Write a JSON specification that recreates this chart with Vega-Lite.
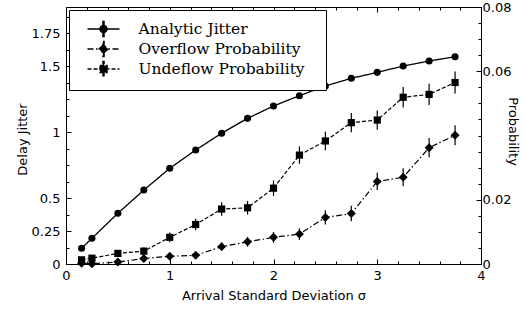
{
  "$schema": "https://vega.github.io/schema/vega-lite/v6.json",
  "width": 415,
  "height": 257,
  "autosize": {"type": "none"},
  "padding": {"left": 66, "top": 7, "right": 45, "bottom": 50},
  "background": "white",
  "config": {
    "view": {"stroke": "black", "strokeWidth": 1},
    "axis": {
      "grid": false, "domain": false, "labelFlush": false, "labelOverlap": false,
      "labelColor": "black", "titleColor": "black", "tickColor": "black", "tickWidth": 1,
      "labelFont": "DejaVu Sans", "titleFont": "DejaVu Sans",
      "labelFontSize": 13, "titleFontSize": 13, "titleFontWeight": "normal", "format": ".3~g"
    }
  },
  "data": {"values": [
    {"series": "Analytic Jitter", "sigma": 0.15, "value": 0.119},
    {"series": "Analytic Jitter", "sigma": 0.25, "value": 0.195},
    {"series": "Analytic Jitter", "sigma": 0.5, "value": 0.385},
    {"series": "Analytic Jitter", "sigma": 0.75, "value": 0.561},
    {"series": "Analytic Jitter", "sigma": 1.0, "value": 0.726},
    {"series": "Analytic Jitter", "sigma": 1.25, "value": 0.865},
    {"series": "Analytic Jitter", "sigma": 1.5, "value": 0.992},
    {"series": "Analytic Jitter", "sigma": 1.75, "value": 1.105},
    {"series": "Analytic Jitter", "sigma": 2.0, "value": 1.199},
    {"series": "Analytic Jitter", "sigma": 2.25, "value": 1.277},
    {"series": "Analytic Jitter", "sigma": 2.5, "value": 1.351},
    {"series": "Analytic Jitter", "sigma": 2.75, "value": 1.409},
    {"series": "Analytic Jitter", "sigma": 3.0, "value": 1.454},
    {"series": "Analytic Jitter", "sigma": 3.25, "value": 1.502},
    {"series": "Analytic Jitter", "sigma": 3.5, "value": 1.54},
    {"series": "Analytic Jitter", "sigma": 3.75, "value": 1.573},
    {"series": "Overflow Probability", "sigma": 0.15, "value": 0.0002, "lo": 0.0, "hi": 0.0005},
    {"series": "Overflow Probability", "sigma": 0.25, "value": 0.0001, "lo": 0.0, "hi": 0.0004},
    {"series": "Overflow Probability", "sigma": 0.5, "value": 0.0006, "lo": 0.0001, "hi": 0.0011},
    {"series": "Overflow Probability", "sigma": 0.75, "value": 0.0017, "lo": 0.0009, "hi": 0.0025},
    {"series": "Overflow Probability", "sigma": 1.0, "value": 0.0024, "lo": 0.0015, "hi": 0.0033},
    {"series": "Overflow Probability", "sigma": 1.25, "value": 0.0027, "lo": 0.0017, "hi": 0.0037},
    {"series": "Overflow Probability", "sigma": 1.5, "value": 0.0054, "lo": 0.0041, "hi": 0.0067},
    {"series": "Overflow Probability", "sigma": 1.75, "value": 0.0069, "lo": 0.0054, "hi": 0.0084},
    {"series": "Overflow Probability", "sigma": 2.0, "value": 0.0083, "lo": 0.0066, "hi": 0.01},
    {"series": "Overflow Probability", "sigma": 2.25, "value": 0.0093, "lo": 0.0075, "hi": 0.0111},
    {"series": "Overflow Probability", "sigma": 2.5, "value": 0.0145, "lo": 0.0123, "hi": 0.0167},
    {"series": "Overflow Probability", "sigma": 2.75, "value": 0.0157, "lo": 0.0133, "hi": 0.0181},
    {"series": "Overflow Probability", "sigma": 3.0, "value": 0.0257, "lo": 0.023, "hi": 0.0284},
    {"series": "Overflow Probability", "sigma": 3.25, "value": 0.027, "lo": 0.0242, "hi": 0.0298},
    {"series": "Overflow Probability", "sigma": 3.5, "value": 0.0362, "lo": 0.0332, "hi": 0.0392},
    {"series": "Overflow Probability", "sigma": 3.75, "value": 0.0401, "lo": 0.037, "hi": 0.0432},
    {"series": "Undeflow Probability", "sigma": 0.15, "value": 0.0013, "lo": 0.0007, "hi": 0.0019},
    {"series": "Undeflow Probability", "sigma": 0.25, "value": 0.0018, "lo": 0.0011, "hi": 0.0025},
    {"series": "Undeflow Probability", "sigma": 0.5, "value": 0.0033, "lo": 0.0023, "hi": 0.0043},
    {"series": "Undeflow Probability", "sigma": 0.75, "value": 0.004, "lo": 0.0029, "hi": 0.0051},
    {"series": "Undeflow Probability", "sigma": 1.0, "value": 0.0083, "lo": 0.0068, "hi": 0.0098},
    {"series": "Undeflow Probability", "sigma": 1.25, "value": 0.0123, "lo": 0.0105, "hi": 0.0141},
    {"series": "Undeflow Probability", "sigma": 1.5, "value": 0.0171, "lo": 0.015, "hi": 0.0192},
    {"series": "Undeflow Probability", "sigma": 1.75, "value": 0.0175, "lo": 0.0154, "hi": 0.0196},
    {"series": "Undeflow Probability", "sigma": 2.0, "value": 0.0236, "lo": 0.0212, "hi": 0.026},
    {"series": "Undeflow Probability", "sigma": 2.25, "value": 0.0339, "lo": 0.0312, "hi": 0.0366},
    {"series": "Undeflow Probability", "sigma": 2.5, "value": 0.0383, "lo": 0.0354, "hi": 0.0412},
    {"series": "Undeflow Probability", "sigma": 2.75, "value": 0.044, "lo": 0.041, "hi": 0.047},
    {"series": "Undeflow Probability", "sigma": 3.0, "value": 0.0448, "lo": 0.0418, "hi": 0.0478},
    {"series": "Undeflow Probability", "sigma": 3.25, "value": 0.0519, "lo": 0.0487, "hi": 0.0551},
    {"series": "Undeflow Probability", "sigma": 3.5, "value": 0.0528, "lo": 0.0495, "hi": 0.0561},
    {"series": "Undeflow Probability", "sigma": 3.75, "value": 0.0565, "lo": 0.0531, "hi": 0.0599}
  ]},
  "layer": [
    {
      "transform": [{"filter": "datum.series === 'Analytic Jitter'"}],
      "layer": [
        {
          "mark": {"type": "line", "color": "black", "strokeWidth": 1.3},
          "encoding": {
            "x": {"field": "sigma", "type": "quantitative", "scale": {"domain": [0, 4], "nice": false},
              "axis": {"orient": "bottom", "values": [0, 1, 2, 3, 4], "tickSize": -5, "labelPadding": 10, "title": "Arrival Standard Deviation σ", "titlePadding": 7}},
            "y": {"field": "value", "type": "quantitative", "scale": {"domain": [0, 1.95], "nice": false},
              "axis": {"orient": "left", "values": [0, 0.25, 0.5, 1, 1.5, 1.75], "tickSize": -5, "labelPadding": 11, "title": "Delay Jitter",
                "titleAngle": -90, "titleAlign": "center", "titleBaseline": "middle", "titleX": -44, "titleY": 132}},
            "strokeDash": {"field": "series", "type": "nominal",
              "scale": {"domain": ["Analytic Jitter", "Overflow Probability", "Undeflow Probability"], "range": [[1, 0], [6, 2.5, 1.5, 2.5], [4, 2]]},
              "legend": {
                "title": null, "orient": "top-left", "offset": 2.5, "padding": 10,
                "strokeColor": "black", "fillColor": "white", "cornerRadius": 0,
                "symbolSize": 256, "symbolStrokeWidth": 1.3, "symbolStrokeColor": "black", "symbolFillColor": "black", "symbolOffset": 15.5,
                "labelFont": "DejaVu Serif", "labelFontSize": 15.5, "labelColor": "black", "labelOffset": 26, "labelLimit": 400, "rowPadding": -4,
                "labelExpr": "datum.label + '\u2800'",
                "encode": {"symbols": {"update": {
                  "fill": {"value": "black"},
                  "stroke": {"value": "black"},
                  "shape": {"signal": "datum.value === 'Analytic Jitter' ? 'M-2,0H2M-0.075,-0.95H0.075V0.95H-0.075ZM-0.45,0A0.45,0.45,0,1,0,0.45,0A0.45,0.45,0,1,0,-0.45,0Z' : datum.value === 'Overflow Probability' ? 'M-2,0H2M-0.075,-0.95H0.075V0.95H-0.075ZM-0.5625,0L0,-0.5625L0.5625,0L0,0.5625Z' : 'M-2,0H2M-0.075,-0.95H0.075V0.95H-0.075ZM-0.45,-0.45H0.45V0.45H-0.45Z'"}
                }}}
              }
            }
          }
        },
        {
          "mark": {"type": "point", "shape": "circle", "filled": true, "color": "black", "opacity": 1, "size": 50},
          "encoding": {
            "x": {"field": "sigma", "type": "quantitative", "scale": {"domain": [0, 4], "nice": false},
              "axis": {"orient": "bottom", "values": [0, 0.2, 0.4, 0.6, 0.8, 1, 1.2, 1.4, 1.6, 1.8, 2, 2.2, 2.4, 2.6, 2.8, 3, 3.2, 3.4, 3.6, 3.8, 4], "tickSize": -3, "labels": false, "title": null}},
            "y": {"field": "value", "type": "quantitative", "scale": {"domain": [0, 1.95], "nice": false},
              "axis": {"orient": "left", "values": [0, 0.125, 0.25, 0.375, 0.5, 0.625, 0.75, 0.875, 1, 1.125, 1.25, 1.375, 1.5, 1.625, 1.75, 1.875], "tickSize": -3, "labels": false, "title": null}}
          }
        }
      ],
      "resolve": {"axis": {"x": "independent", "y": "independent"}}
    },
    {
      "transform": [{"filter": "datum.series !== 'Analytic Jitter'"}],
      "layer": [
        {
          "mark": {"type": "rule", "color": "black", "strokeWidth": 1.2},
          "encoding": {
            "x": {"field": "sigma", "type": "quantitative", "scale": {"domain": [0, 4], "nice": false}, "axis": null},
            "y": {"field": "lo", "type": "quantitative", "scale": {"domain": [0, 0.08], "nice": false}, "axis": null},
            "y2": {"field": "hi"}
          }
        },
        {
          "mark": {"type": "line", "color": "black", "strokeWidth": 1.2},
          "encoding": {
            "x": {"field": "sigma", "type": "quantitative", "scale": {"domain": [0, 4], "nice": false},
              "axis": {"orient": "top", "values": [0, 1, 2, 3, 4], "tickSize": -5, "labels": false, "title": null}},
            "y": {"field": "value", "type": "quantitative", "scale": {"domain": [0, 0.08], "nice": false},
              "axis": {"orient": "right", "values": [0, 0.02, 0.06, 0.08], "tickSize": -5, "labelPadding": 6, "title": "Probability",
                "titleAngle": 90, "titleAlign": "center", "titleBaseline": "middle", "titleX": 31, "titleY": 124}},
            "strokeDash": {"field": "series", "type": "nominal",
              "scale": {"domain": ["Analytic Jitter", "Overflow Probability", "Undeflow Probability"], "range": [[1, 0], [6, 2.5, 1.5, 2.5], [4, 2]]},
              "legend": null}
          }
        },
        {
          "transform": [{"filter": "datum.series === 'Overflow Probability'"}],
          "mark": {"type": "point", "shape": "diamond", "filled": true, "color": "black", "opacity": 1, "size": 80},
          "encoding": {
            "x": {"field": "sigma", "type": "quantitative", "scale": {"domain": [0, 4], "nice": false},
              "axis": {"orient": "top", "values": [0, 0.2, 0.4, 0.6, 0.8, 1, 1.2, 1.4, 1.6, 1.8, 2, 2.2, 2.4, 2.6, 2.8, 3, 3.2, 3.4, 3.6, 3.8, 4], "tickSize": -3, "labels": false, "title": null}},
            "y": {"field": "value", "type": "quantitative", "scale": {"domain": [0, 0.08], "nice": false},
              "axis": {"orient": "right", "values": [0, 0.005, 0.01, 0.015, 0.02, 0.025, 0.03, 0.035, 0.04, 0.045, 0.05, 0.055, 0.06, 0.065, 0.07, 0.075, 0.08], "tickSize": -3, "labels": false, "title": null}}
          }
        },
        {
          "transform": [{"filter": "datum.series === 'Undeflow Probability'"}],
          "mark": {"type": "point", "shape": "square", "filled": true, "color": "black", "opacity": 1, "size": 52},
          "encoding": {
            "x": {"field": "sigma", "type": "quantitative", "scale": {"domain": [0, 4], "nice": false}, "axis": null},
            "y": {"field": "value", "type": "quantitative", "scale": {"domain": [0, 0.08], "nice": false}, "axis": null}
          }
        }
      ],
      "resolve": {"axis": {"x": "independent", "y": "independent"}}
    }
  ],
  "resolve": {"scale": {"y": "independent"}, "axis": {"x": "independent", "y": "independent"}}
}
